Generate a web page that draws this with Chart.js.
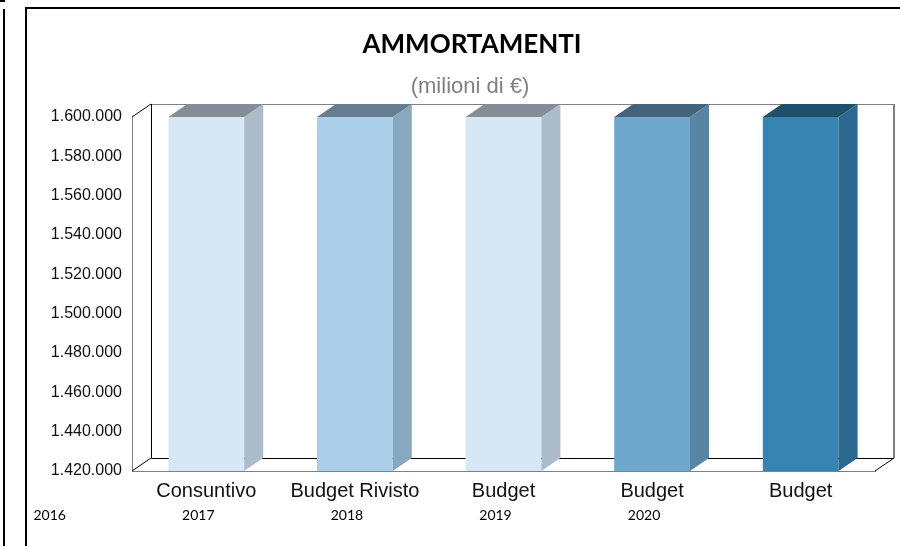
<!DOCTYPE html>
<html>
<head>
<meta charset="utf-8">
<script src="https://cdn.jsdelivr.net/npm/chart.js@4.4.1/dist/chart.umd.min.js"></script>
<style>
  html, body { margin: 0; padding: 0; background: #fff; }
  #wrap { position: relative; width: 900px; height: 546px; overflow: hidden; }
  #leftLine { position: absolute; left: 3px; top: 9px; width: 2px; height: 560px; background: #000; }
  #leftTick { position: absolute; left: 0; top: 0; width: 5px; height: 2px; background: #000; }
  #box { position: absolute; left: 25px; top: 7px; width: 900px; height: 600px; border-left: 2px solid #000; border-top: 2px solid #000; }
  canvas { position: absolute; left: 0; top: 0; }
</style>
</head>
<body>
<div id="wrap">
  <div id="leftLine"></div>
  <div id="leftTick"></div>
  <div id="box"></div>
  <canvas id="ammortamenti" width="900" height="546"></canvas>
</div>
<script>
// dati
const categories = ['Consuntivo', 'Budget Rivisto', 'Budget', 'Budget', 'Budget'];
const values = [1600000, 1600000, 1600000, 1600000, 1600000];
const years = ['2016', '2017', '2018', '2019', '2020'];
const yMin = 1420000;
const yMax = 1600000;
const yStep = 20000;
const titolo = 'AMMORTAMENTI';
const sottotitolo = '(milioni di €)';

// colori: fronte, lato, tetto
const frontColors = ['#D6E8F5', '#ABCFE8', '#D6E8F5', '#6FA8CB', '#3784B3'];
const sideColors = ['#ADBCCB', '#88A8C0', '#ADBCCB', '#5885A3', '#2B6890'];
const topColors = ['#848E97', '#657D91', '#848E97', '#43647C', '#1E4F6B'];

const DX = 19, DY = -13;

function fmt(v) {
  return String(v).replace(/\B(?=(\d{3})+(?!\d))/g, '.');
}

// pareti del grafico 3D
const wallPlugin = {
  id: 'wall',
  beforeDatasetsDraw(chart) {
    const { ctx, chartArea: a } = chart;
    ctx.save();
    ctx.lineWidth = 1;
    // parete di fondo
    ctx.strokeStyle = '#808080';
    ctx.beginPath();
    ctx.moveTo(a.left + DX, a.top + DY + 0.5);
    ctx.lineTo(a.right + DX, a.top + DY + 0.5);
    ctx.stroke();
    ctx.lineWidth = 2;
    ctx.beginPath();
    ctx.moveTo(a.right + DX, a.top + DY);
    ctx.lineTo(a.right + DX, a.bottom + DY);
    ctx.stroke();
    ctx.lineWidth = 1;
    ctx.strokeStyle = '#000';
    ctx.beginPath();
    ctx.moveTo(a.left + DX + 0.5, a.top + DY);
    ctx.lineTo(a.left + DX + 0.5, a.bottom + DY + 0.5);
    ctx.lineTo(a.right + DX, a.bottom + DY + 0.5);
    ctx.stroke();
    // diagonali
    ctx.beginPath();
    ctx.moveTo(a.left, a.top);
    ctx.lineTo(a.left + DX, a.top + DY);
    ctx.moveTo(a.left, a.bottom);
    ctx.lineTo(a.left + DX, a.bottom + DY);
    ctx.moveTo(a.right, a.bottom);
    ctx.lineTo(a.right + DX, a.bottom + DY);
    ctx.stroke();
    ctx.restore();
  },
  afterDatasetsDraw(chart) {
    const { ctx, chartArea: a } = chart;
    const meta = chart.getDatasetMeta(0);
    ctx.save();
    meta.data.forEach((bar, i) => {
      const p = bar.getProps(['x', 'y', 'base', 'width'], true);
      const l = p.x - p.width / 2, r = p.x + p.width / 2;
      const y = Math.max(p.y, a.top);
      const base = Math.min(p.base, a.bottom);
      ctx.fillStyle = sideColors[i];
      ctx.beginPath();
      ctx.moveTo(r, y);
      ctx.lineTo(r + DX, y + DY);
      ctx.lineTo(r + DX, base + DY);
      ctx.lineTo(r, base);
      ctx.closePath();
      ctx.fill();
      ctx.fillStyle = topColors[i];
      ctx.beginPath();
      ctx.moveTo(l, y);
      ctx.lineTo(l + DX, y + DY);
      ctx.lineTo(r + DX, y + DY);
      ctx.lineTo(r, y);
      ctx.closePath();
      ctx.fill();
    });
    ctx.restore();
  },
  afterDraw(chart) {
    const { ctx } = chart;
    const xs = chart.scales.x;
    ctx.save();
    ctx.textAlign = 'center';
    ctx.textBaseline = 'middle';
    // titolo e sottotitolo
    ctx.fillStyle = '#000';
    ctx.font = 'bold 26px Lato';
    ctx.fillText(titolo, 472, 45);
    ctx.fillStyle = '#808080';
    ctx.font = '22px "Liberation Sans"';
    ctx.fillText(sottotitolo, 470, 87);
    // anni
    ctx.fillStyle = '#000';
    ctx.font = '14px Lato';
    years.forEach((yr, i) => {
      ctx.fillText(yr, xs.getPixelForValue(i - 1) - 8, 515);
    });
    ctx.restore();
  }
};

new Chart(document.getElementById('ammortamenti'), {
  type: 'bar',
  data: {
    labels: categories,
    datasets: [{
      data: values,
      backgroundColor: frontColors,
      borderWidth: 0,
      barPercentage: 0.51,
      categoryPercentage: 1.0
    }]
  },
  options: {
    responsive: false,
    animation: false,
    layout: { padding: { left: 0, right: 25, top: 117, bottom: 0 } },
    plugins: {
      legend: { display: false },
      tooltip: { enabled: false }
    },
    scales: {
      x: {
        grid: { display: false, drawTicks: false },
        border: { display: true, color: '#808080' },
        ticks: {
          color: '#111',
          font: { family: 'Liberation Sans', size: 20 },
          padding: 8,
          maxRotation: 0,
          autoSkip: false
        },
        afterFit(scale) { scale.height = 75; }
      },
      y: {
        min: yMin,
        max: yMax,
        grid: { display: false, drawTicks: false },
        border: { display: true, color: '#808080' },
        ticks: {
          stepSize: yStep,
          color: '#111',
          font: { family: 'Liberation Sans', size: 16 },
          padding: 10,
          callback: v => fmt(v)
        },
        afterFit(scale) { scale.width = 132; }
      }
    }
  },
  plugins: [wallPlugin]
});
</script>
</body>
</html>
